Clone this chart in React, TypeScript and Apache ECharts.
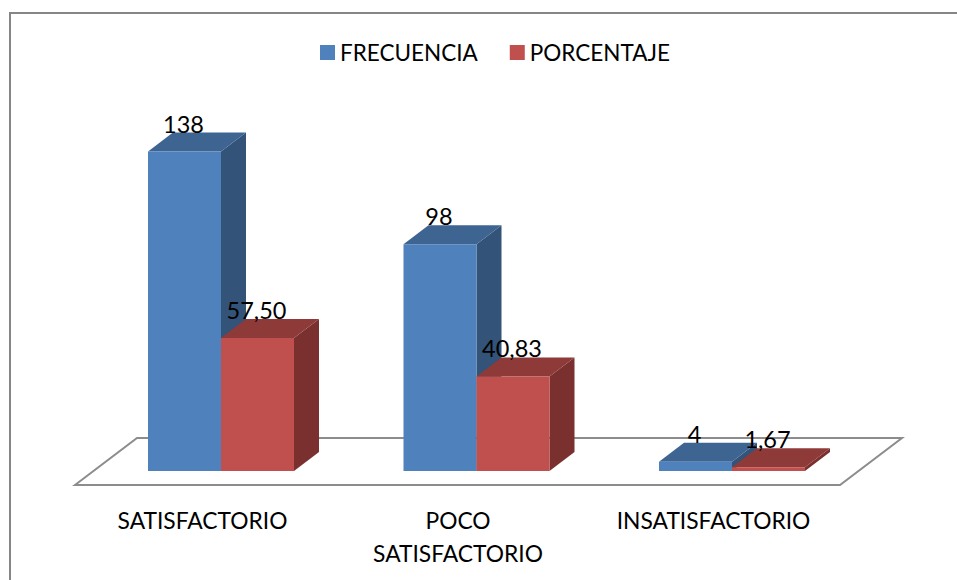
import React, { useEffect, useRef } from "react";
import * as echarts from "echarts";

const categories = ["SATISFACTORIO", "POCO\nSATISFACTORIO", "INSATISFACTORIO"];
const frecuencia = [138, 98, 4];
const porcentaje = [57.5, 40.83, 1.67];

const BAR_RATIO = 73 / 255.5;
const DEPTH_X = 25;
const DEPTH_Y = -19;
const FONT = "Lato, 'Open Sans', sans-serif";

const BLUE = { front: "#4F81BD", top: "#3E6592", side: "#335378" };
const RED = { front: "#C0504D", top: "#8E3A38", side: "#7A302E" };

// Draws one extruded column: front face, top face, side face and its value label.
function columnRenderer(
  palette: { front: string; top: string; side: string },
  slot: number,
  format: (v: number) => string
) {
  return (_params: any, api: any) => {
    const idx = api.value(0);
    const value = api.value(1);
    const base = api.coord([idx, 0]);
    const tip = api.coord([idx, value]);
    const w = api.size([1, 0])[0] * BAR_RATIO;
    const x0 = base[0] + (slot === 0 ? -w : 0);
    const x1 = x0 + w;
    const yb = base[1];
    const yt = tip[1];
    const poly = (points: number[][], fill: string) => ({
      type: "polygon",
      shape: { points },
      style: { fill, stroke: null },
    });
    return {
      type: "group",
      children: [
        poly(
          [
            [x1, yb],
            [x1 + DEPTH_X, yb + DEPTH_Y],
            [x1 + DEPTH_X, yt + DEPTH_Y],
            [x1, yt],
          ],
          palette.side
        ),
        poly(
          [
            [x0, yt],
            [x0 + DEPTH_X, yt + DEPTH_Y],
            [x1 + DEPTH_X, yt + DEPTH_Y],
            [x1, yt],
          ],
          palette.top
        ),
        poly(
          [
            [x0, yb],
            [x1, yb],
            [x1, yt],
            [x0, yt],
          ],
          palette.front
        ),
        {
          type: "text",
          z2: 50,
          style: {
            x: (x0 + x1) / 2 - 1,
            y: yt + DEPTH_Y + 3,
            text: format(value),
            align: "center",
            verticalAlign: "bottom",
            fontFamily: FONT,
            fontSize: 23.5,
            fill: "#000000",
          },
        },
      ],
    };
  };
}

const seriesData = (values: number[]) => values.map((v, i) => [i, v]);

export default function App() {
  const ref = useRef<HTMLDivElement>(null);

  useEffect(() => {
    if (!ref.current) return;
    const chart = echarts.init(ref.current, null, { renderer: "svg" });
    chart.setOption({
      animation: false,
      backgroundColor: "#ffffff",
      grid: { left: 93.25, width: 766.5, top: 123.75, height: 347.25 },
      legend: {
        left: 315,
        top: 36,
        icon: "rect",
        itemWidth: 15,
        itemHeight: 15,
        itemGap: 32,
        data: ["FRECUENCIA", "PORCENTAJE"],
        textStyle: { fontFamily: FONT, fontSize: 22.5, color: "#000000" },
      },
      xAxis: {
        type: "category",
        data: categories,
        axisLine: { show: false },
        axisTick: { show: false },
        axisLabel: {
          interval: 0,
          margin: 32,
          lineHeight: 33,
          fontFamily: FONT,
          fontSize: 22.8,
          color: "#000000",
          padding: [0, 37, 0, 0],
        },
      },
      yAxis: { type: "value", min: 0, max: 150, show: false },
      graphic: [
        {
          type: "polyline",
          z: -1,
          shape: {
            points: [
              [10, 580],
              [10, 13],
              [957, 13],
            ],
          },
          style: { fill: "none", stroke: "#868686", lineWidth: 2 },
        },
        {
          type: "polygon",
          z: -1,
          shape: {
            points: [
              [75, 485],
              [137, 438],
              [902, 438],
              [840, 485],
            ],
          },
          style: { fill: "none", stroke: "#8C8C8C", lineWidth: 2 },
        },
      ],
      series: [
        {
          name: "FRECUENCIA",
          type: "custom",
          itemStyle: { color: BLUE.front },
          data: seriesData(frecuencia),
          encode: { x: 0, y: 1 },
          renderItem: columnRenderer(BLUE, 0, (v) => String(v)),
        },
        {
          name: "PORCENTAJE",
          type: "custom",
          itemStyle: { color: RED.front },
          data: seriesData(porcentaje),
          encode: { x: 0, y: 1 },
          renderItem: columnRenderer(RED, 1, (v) => v.toFixed(2).replace(".", ",")),
        },
      ],
    });
    return () => chart.dispose();
  }, []);

  return (
    <div
      ref={ref}
      style={{ position: "absolute", left: 0, top: 0, width: 957, height: 580 }}
    />
  );
}
